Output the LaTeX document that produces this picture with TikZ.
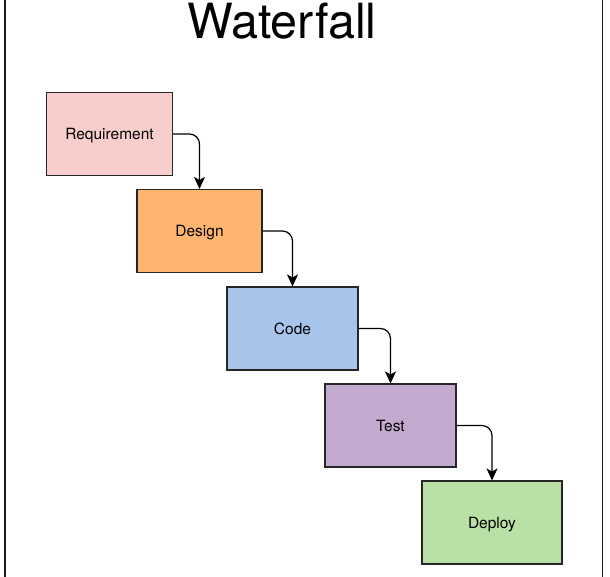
\documentclass[tikz,border=0pt]{standalone}
\usepackage{fontspec}
\setmainfont{TeX Gyre Heros}
\usetikzlibrary{positioning,arrows.meta}

\definecolor{reqfill}{HTML}{F8CECC}
\definecolor{desfill}{HTML}{FFB570}
\definecolor{codefill}{HTML}{A9C4EB}
\definecolor{testfill}{HTML}{C3ABD0}
\definecolor{depfill}{HTML}{B9E0A5}

\tikzset{
  phase/.style={draw=black!85, line width=1.1pt, minimum height=83pt,
    font=\fontsize{15.5}{18}\selectfont, inner sep=0pt,
    text height=11.3pt, text depth=0pt},
  flow/.style={line width=1.2pt, rounded corners=10pt,
    -{Stealth[length=12pt,width=11pt,inset=3pt]}}
}

\begin{document}
\begin{tikzpicture}[x=1pt,y=-1pt]
      \useasboundingbox (0,0) rectangle (610,576);
      % frame
      \draw[line width=1.4pt, black!90] (5,-5) -- (5,581);
      \draw[line width=1.4pt, black!90] (602.5,-5) -- (602.5,581);
      \node[anchor=base, font=\fontsize{48.5}{52}\selectfont] (title) at (282,38) {Waterfall};
      % phases
      \node[phase, fill=reqfill, minimum width=126pt] (req) at (109.5,134) {Requirement};
      \node[phase, fill=desfill, minimum width=125pt] (des) at (199.5,231) {Design};
      \node[phase, fill=codefill, minimum width=131pt] (code) at (292.5,328.5) {Code};
      \node[phase, fill=testfill, minimum width=131pt] (test) at (390.5,425.5) {Test};
      \node[phase, fill=depfill, minimum width=140pt] (dep) at (492,522.5) {Deploy};
      % arrows
      \draw[flow] (req.east) -| (des.north);
      \draw[flow] (des.east) -| (code.north);
      \draw[flow] (code.east) -| (test.north);
      \draw[flow] (test.east) -| (dep.north);
\end{tikzpicture}
\end{document}
